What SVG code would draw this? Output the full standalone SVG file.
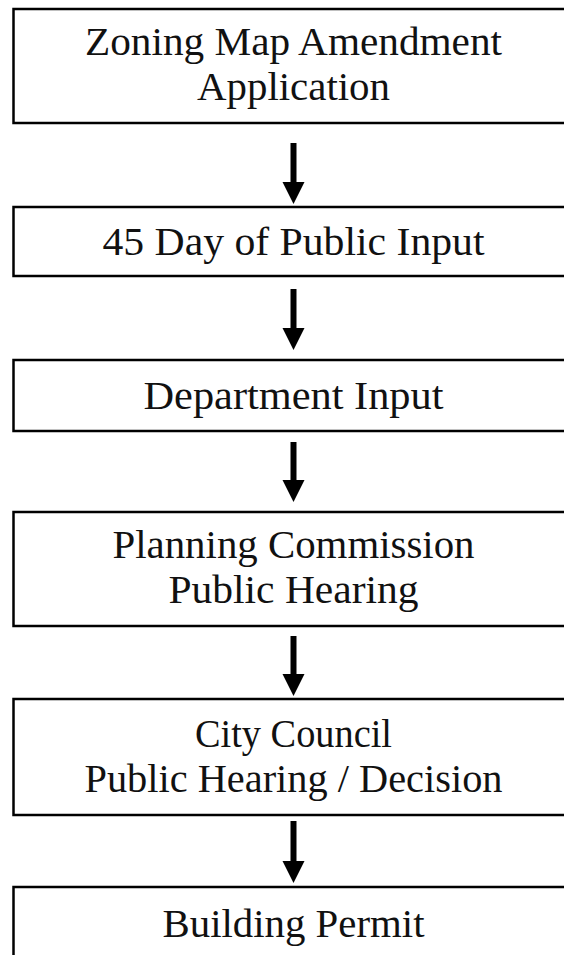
<svg xmlns="http://www.w3.org/2000/svg" width="564" height="955" viewBox="0 0 564 955">
  <style>
    .box { fill: #ffffff; stroke: #000000; stroke-width: 2.5; }
    .label { font-family: "Liberation Serif", "DejaVu Serif", serif; font-size: 40px; fill: #111111; text-anchor: middle; }
    .shaft { stroke: #000000; stroke-width: 6; fill: none; }
    .head { fill: #000000; }
  </style>
  <rect width="564" height="955" fill="#ffffff"/>

  <!-- process steps; boxes run off the right edge of the page -->
  <g id="step-application">
    <rect class="box" x="13.5" y="9" width="580" height="114"/>
    <text class="label" x="293.5" y="55" textLength="417" lengthAdjust="spacingAndGlyphs">Zoning Map Amendment</text>
    <text class="label" x="293.5" y="100" textLength="193" lengthAdjust="spacingAndGlyphs">Application</text>
  </g>
  <g id="step-public-input">
    <rect class="box" x="13.5" y="207" width="580" height="69"/>
    <text class="label" x="293.5" y="254.5" textLength="382" lengthAdjust="spacingAndGlyphs">45 Day of Public Input</text>
  </g>
  <g id="step-department-input">
    <rect class="box" x="13.5" y="360" width="580" height="71"/>
    <text class="label" x="293.5" y="408.5" textLength="300" lengthAdjust="spacingAndGlyphs">Department Input</text>
  </g>
  <g id="step-planning-commission">
    <rect class="box" x="13.5" y="512" width="580" height="114"/>
    <text class="label" x="293.5" y="558" textLength="362" lengthAdjust="spacingAndGlyphs">Planning Commission</text>
    <text class="label" x="293.5" y="603" textLength="250" lengthAdjust="spacingAndGlyphs">Public Hearing</text>
  </g>
  <g id="step-city-council">
    <rect class="box" x="13.5" y="699" width="580" height="116"/>
    <text class="label" x="293.5" y="746.5" textLength="197" lengthAdjust="spacingAndGlyphs">City Council</text>
    <text class="label" x="293.5" y="792" textLength="418" lengthAdjust="spacingAndGlyphs">Public Hearing / Decision</text>
  </g>
  <g id="step-building-permit">
    <rect class="box" x="13.5" y="887" width="580" height="120"/>
    <text class="label" x="293.5" y="936.5" textLength="262" lengthAdjust="spacingAndGlyphs">Building Permit</text>
  </g>

  <!-- downward connectors between steps -->
  <g id="connectors">
    <line class="shaft" x1="293.5" y1="143" x2="293.5" y2="184"/>
    <polygon class="head" points="282.5,182 304.5,182 293.5,204"/>

    <line class="shaft" x1="293.5" y1="289" x2="293.5" y2="330"/>
    <polygon class="head" points="282.5,328 304.5,328 293.5,350"/>

    <line class="shaft" x1="293.5" y1="442" x2="293.5" y2="482"/>
    <polygon class="head" points="282.5,480 304.5,480 293.5,502"/>

    <line class="shaft" x1="293.5" y1="636" x2="293.5" y2="676"/>
    <polygon class="head" points="282.5,674 304.5,674 293.5,696"/>

    <line class="shaft" x1="293.5" y1="821" x2="293.5" y2="863"/>
    <polygon class="head" points="282.5,861 304.5,861 293.5,883"/>
  </g>
</svg>
